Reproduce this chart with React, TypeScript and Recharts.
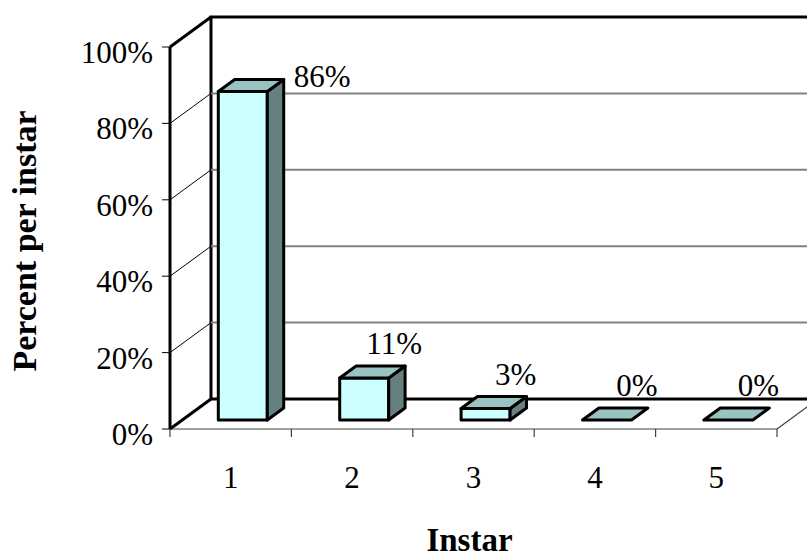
import React from "react";
import { Bar, BarChart, CartesianGrid, LabelList, XAxis, YAxis } from "recharts";

// instar number and share of individuals per instar (%)
const instars = ["1", "2", "3", "4", "5"];
const percentPerInstar = [86, 11, 3, 0, 0];
const percentTicks = [0, 20, 40, 60, 80, 100];

const data = instars.map((instar, i) => ({ instar, percent: percentPerInstar[i] }));

const WIDTH = 807;
const HEIGHT = 559;
const MARGIN = { top: 47, right: 30, bottom: 40, left: 70 };
const Y_AXIS_W = 100;
const X_AXIS_H = 90;

// front plane of the plot (where the axes sit)
const LEFT = MARGIN.left + Y_AXIS_W;
const RIGHT = WIDTH - MARGIN.right;
const TOP = MARGIN.top;
const BOTTOM = HEIGHT - MARGIN.bottom - X_AXIS_H;

// oblique depth of the walls, and where the boxes sit inside that depth
const DEPTH_X = 41;
const DEPTH_Y = 30;
const BOX_FRONT = 0.3;
const BOX_BACK = 0.7;

const FONT = "'Liberation Serif', 'Times New Roman', serif";
const INK = "#000";
const FACE_FRONT = "#CCFFFF";
const FACE_TOP = "#99C2C2";
const FACE_SIDE = "#668080";

const bandWidth = (RIGHT - LEFT) / instars.length;

const line = (x1: number, y1: number, x2: number, y2: number, stroke: string, w: number) => (
	<line x1={x1} y1={y1} x2={x2} y2={y2} stroke={stroke} strokeWidth={w} />
);

// back wall grid, side wall grid and the wall/floor frame
const WallLine = (props: any) => {
	const y = props.y1;
	const edge = Math.abs(y - TOP) < 1 || Math.abs(y - BOTTOM) < 1;
	const bx = LEFT + DEPTH_X;
	return (
		<g key={props.key ?? `wall-${props.index}`}>
			{!edge && line(LEFT, y, bx, y - DEPTH_Y, INK, 1)}
			{!edge && line(bx, y - DEPTH_Y, WIDTH, y - DEPTH_Y, "#808080", 2)}
			{props.index === 0 && (
				<g>
					{line(RIGHT, BOTTOM, WIDTH, BOTTOM - ((WIDTH - RIGHT) * DEPTH_Y) / DEPTH_X, "#404040", 1.2)}
					{line(LEFT, TOP, bx, TOP - DEPTH_Y, INK, 3)}
					{line(bx - 1.5, TOP - DEPTH_Y, WIDTH, TOP - DEPTH_Y, INK, 3)}
					{line(bx, TOP - DEPTH_Y, bx, BOTTOM - DEPTH_Y, INK, 3)}
					{line(LEFT, BOTTOM, bx, BOTTOM - DEPTH_Y, INK, 3)}
					{line(bx, BOTTOM - DEPTH_Y, WIDTH, BOTTOM - DEPTH_Y, INK, 3)}
				</g>
			)}
		</g>
	);
};

const Box3D = (props: any) => {
	const { x, y, width, height } = props;
	const fx = x + BOX_FRONT * DEPTH_X;
	const fy = y - BOX_FRONT * DEPTH_Y;
	const dx = (BOX_BACK - BOX_FRONT) * DEPTH_X;
	const dy = (BOX_BACK - BOX_FRONT) * DEPTH_Y;
	const h = Math.max(height, 0);
	const top = `${fx},${fy} ${fx + width},${fy} ${fx + width + dx},${fy - dy} ${fx + dx},${fy - dy}`;
	const side = `${fx + width},${fy} ${fx + width + dx},${fy - dy} ${fx + width + dx},${fy + h - dy} ${fx + width},${fy + h}`;
	return (
		<g stroke={INK} strokeWidth={3} strokeLinejoin="round">
			{h > 0 && <rect x={fx} y={fy} width={width} height={h} fill={FACE_FRONT} />}
			{h > 0 && <polygon points={side} fill={FACE_SIDE} />}
			<polygon points={top} fill={FACE_TOP} />
		</g>
	);
};

// tall boxes get their value beside the top, short ones above it
const ValueLabel = (props: any) => {
	const { x, y, width, value } = props;
	const fx = x + BOX_FRONT * DEPTH_X;
	const fy = y - BOX_FRONT * DEPTH_Y;
	const tall = value > 50;
	const tx = tall ? fx + width + (BOX_BACK - BOX_FRONT) * DEPTH_X + 10 : fx + width / 2 + 30;
	const ty = tall ? fy - 4 : fy - 24;
	return (
		<text x={tx} y={ty} textAnchor={tall ? "start" : "middle"} fontFamily={FONT} fontSize={31} fill={INK}>
			{`${value}%`}
		</text>
	);
};

const PercentTick = (props: any) => {
	const { x, y, payload } = props;
	return (
		<text x={x} y={y} dy={16} textAnchor="end" fontFamily={FONT} fontSize={31} fill={INK}>
			{`${payload.value}%`}
		</text>
	);
};

const InstarTick = (props: any) => {
	const { x, payload, index } = props;
	return (
		<g>
			{index === 0 && line(x - bandWidth / 2, BOTTOM, x - bandWidth / 2, BOTTOM + 8, "#404040", 1.2)}
			{line(x + bandWidth / 2, BOTTOM, x + bandWidth / 2, BOTTOM + 8, "#404040", 1.2)}
			<text x={x} y={BOTTOM + 59} textAnchor="middle" fontFamily={FONT} fontSize={31} fill={INK}>
				{payload.value}
			</text>
		</g>
	);
};

export default function App() {
	return (
		<div style={{ position: "absolute", left: 0, top: 0, background: "#fff" }}>
			<BarChart width={WIDTH} height={HEIGHT} data={data} margin={MARGIN}>
				<CartesianGrid horizontal={WallLine} vertical={false} />
				<XAxis
					dataKey="instar"
					height={X_AXIS_H}
					tickLine={false}
					axisLine={{ stroke: "#404040", strokeWidth: 1.2 }}
					tick={InstarTick}
					interval={0}
					label={{
						content: () => (
							<text x={(LEFT + RIGHT) / 2 - 4} y={HEIGHT - 8} textAnchor="middle" fontFamily={FONT} fontSize={33} fontWeight="bold" fill={INK}>
								Instar
							</text>
						),
					}}
				/>
				<YAxis
					width={Y_AXIS_W}
					domain={[0, 100]}
					ticks={percentTicks}
					interval={0}
					tickSize={8}
					tickMargin={9}
					tickLine={{ stroke: INK, strokeWidth: 1 }}
					axisLine={{ stroke: INK, strokeWidth: 3 }}
					tick={PercentTick}
					label={{
						content: () => (
							<text transform={`translate(36, ${(TOP + BOTTOM) / 2 + 3}) rotate(-90)`} textAnchor="middle" fontFamily={FONT} fontSize={34} fontWeight="bold" fill={INK}>
								Percent per instar
							</text>
						),
					}}
				/>
				<Bar dataKey="percent" barSize={49} shape={Box3D} isAnimationActive={false}>
					<LabelList dataKey="percent" content={ValueLabel} />
				</Bar>
			</BarChart>
		</div>
	);
}
